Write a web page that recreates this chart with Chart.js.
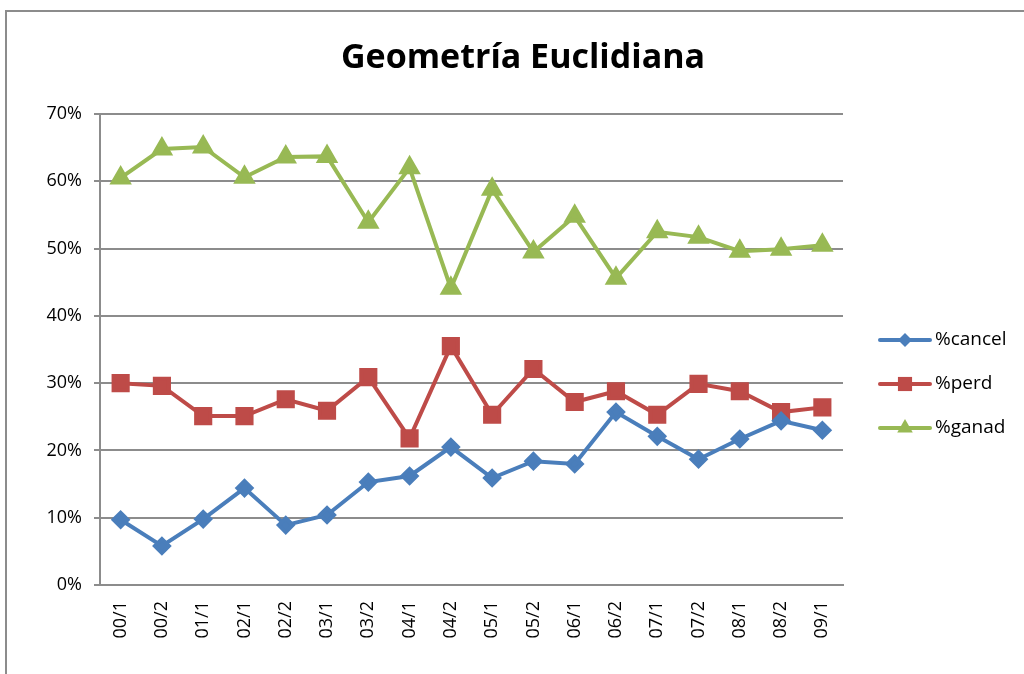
<!DOCTYPE html>
<html>
<head>
<meta charset="utf-8">
<script src="https://cdn.jsdelivr.net/npm/chart.js@4"></script>
<style>
  html, body { margin: 0; padding: 0; background: #fff; }
  #wrap { position: relative; width: 1024px; height: 674px; overflow: hidden; }
  #frame { position: absolute; left: 5px; top: 10px; width: 1100px; height: 700px;
           border-left: 2px solid #8c8c8c; border-top: 2px solid #8c8c8c; }
  canvas { position: absolute; left: 0; top: 0; }
</style>
</head>
<body>
<div id="wrap">
  <div id="frame"></div>
  <canvas id="myChart" width="1024" height="674"></canvas>
</div>
<script>
const labels = ['00/1','00/2','01/1','02/1','02/2','03/1','03/2','04/1','04/2','05/1','05/2','06/1','06/2','07/1','07/2','08/1','08/2','09/1'];
const cancel = [9.7, 5.8, 9.8, 14.4, 8.9, 10.4, 15.3, 16.2, 20.5, 15.9, 18.4, 18.0, 25.7, 22.1, 18.7, 21.7, 24.4, 23.0];
const perd   = [30.0, 29.6, 25.1, 25.1, 27.6, 25.9, 30.9, 21.8, 35.5, 25.3, 32.1, 27.2, 28.8, 25.3, 29.9, 28.8, 25.7, 26.4];
const ganad  = [60.5, 64.8, 65.1, 60.6, 63.6, 63.7, 53.9, 62.0, 44.1, 58.8, 49.5, 54.8, 45.6, 52.5, 51.7, 49.6, 49.9, 50.5];
const yTicks = [0, 10, 20, 30, 40, 50, 60, 70];

const font = "'Open Sans', 'DejaVu Sans', sans-serif";

// title and legend drawn by hand, Excel style
const extras = {
  id: 'extras',
  afterDraw(chart) {
    const ctx = chart.ctx;
    ctx.save();
    ctx.fillStyle = '#000';
    ctx.font = "bold 34px " + font;
    ctx.textAlign = 'center';
    ctx.textBaseline = 'middle';
    ctx.fillText('Geometría Euclidiana', 523, 58);

    ctx.font = "19px " + font;
    ctx.textAlign = 'left';
    chart.data.datasets.forEach((ds, i) => {
      const y = 340 + i * 44;
      ctx.strokeStyle = ds.borderColor;
      ctx.lineWidth = 4;
      ctx.lineCap = 'round';
      ctx.beginPath();
      ctx.moveTo(880, y);
      ctx.lineTo(930, y);
      ctx.stroke();
      ctx.fillStyle = ds.backgroundColor;
      Chart.helpers.drawPoint(ctx, {pointStyle: ds.pointStyle, radius: ds.pointRadius, rotation: 0, borderWidth: 0}, 905, y);
      ctx.fillStyle = '#000';
      ctx.fillText(ds.label, 935, y);
    });
    ctx.restore();
  }
};

const data = {
  labels,
  datasets: [
    {
      label: '%cancel',
      data: cancel,
      borderColor: '#4A7EBB',
      backgroundColor: '#4A7EBB',
      borderWidth: 4,
      pointStyle: 'rectRot',
      pointRadius: 7,
      tension: 0,
    },
    {
      label: '%perd',
      data: perd,
      borderColor: '#BE4B48',
      backgroundColor: '#BE4B48',
      borderWidth: 4,
      pointStyle: 'rect',
      pointRadius: 10,
      tension: 0,
    },
    {
      label: '%ganad',
      data: ganad,
      borderColor: '#98B954',
      backgroundColor: '#98B954',
      borderWidth: 4,
      pointStyle: 'triangle',
      pointRadius: 9,
      tension: 0,
    }
  ],
};

const config = {
  type: 'line',
  data: data,
  plugins: [extras],
  options: {
    responsive: false,
    animation: false,
    layout: { padding: { top: 114, right: 181, bottom: 0, left: 0 } },
    scales: {
      x: {
        offset: true,
        grid: { display: false },
        border: { display: true, color: '#8c8c8c', width: 2 },
        ticks: {
          color: '#000',
          font: { family: font, size: 18 },
          minRotation: 90,
          maxRotation: 90,
          padding: 8,
        },
        afterFit(scale) { scale.height = 89; },
      },
      y: {
        min: 0,
        max: 70,
        afterBuildTicks(scale) { scale.ticks = yTicks.map(v => ({ value: v })); },
        grid: { color: '#8c8c8c', lineWidth: 2, tickLength: 6 },
        border: { display: true, color: '#8c8c8c', width: 2 },
        ticks: {
          color: '#000',
          font: { family: font, size: 18 },
          padding: 12,
          callback: v => v + '%',
        },
        afterFit(scale) { scale.width = 100; },
      },
    },
    plugins: {
      legend: { display: false },
      title: { display: false },
      tooltip: { enabled: false },
    }
  },
};
const ctx = document.getElementById('myChart');

const myChart = new Chart(ctx, config);
</script>
</body>
</html>
